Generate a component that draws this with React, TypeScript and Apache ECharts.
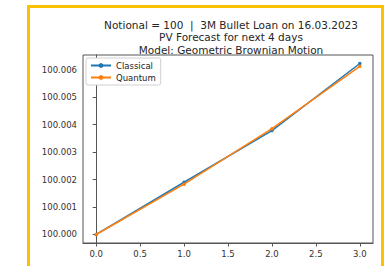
import React, { useEffect, useRef } from "react";
import * as echarts from "echarts";

const days = [0, 1, 2, 3];
const classical = [100.0, 100.0019, 100.00378, 100.00622];
const quantum = [100.0, 100.00183, 100.00385, 100.00612];
const xTicks = [0, 0.5, 1, 1.5, 2, 2.5, 3];
const yTicks = [100.0, 100.001, 100.002, 100.003, 100.004, 100.005, 100.006];
const titleLines = [
  "Notional = 100  |  3M Bullet Loan on 16.03.2023",
  "PV Forecast for next 4 days",
  "Model: Geometric Brownian Motion",
];

const FONT = "DejaVu Sans";

export default function App() {
  const ref = useRef<HTMLDivElement>(null);
  useEffect(() => {
    document.body.style.margin = "0";
    const chart = echarts.init(ref.current!, null, { renderer: "svg" });
    const ser = (name: string, data: number[], color: string) => ({
      name,
      type: "line",
      data: days.map((d, i) => [d, data[i]]),
      symbol: "circle",
      symbolSize: 3.5,
      lineStyle: { color, width: 1.5 },
      itemStyle: { color },
      z: name === "Quantum" ? 3 : 2,
    });
    chart.setOption({
      animation: false,
      backgroundColor: "#fff",
      textStyle: { fontFamily: FONT },
      title: {
        text: titleLines.join("\n"),
        left: 226,
        top: 14,
        textAlign: "center",
        textStyle: {
          fontFamily: FONT,
          fontSize: 10.5,
          fontWeight: "normal",
          color: "#262626",
          lineHeight: 12.3,
        },
      },
      graphic: [
        {
          type: "rect",
          shape: { x: 28.5, y: 6.5, width: 354, height: 280 },
          style: { fill: "none", stroke: "#FFC000", lineWidth: 3 },
          silent: true,
        },
      ],
      legend: {
        left: 86,
        top: 58,
        orient: "vertical",
        itemGap: 3,
        itemWidth: 20,
        itemHeight: 6,
        padding: [3, 5, 3, 4],
        borderColor: "#d0d0d0",
        borderWidth: 1,
        borderRadius: 2,
        backgroundColor: "#fff",
        textStyle: { fontFamily: FONT, fontSize: 8.5, color: "#222", padding: [0, 0, 0, 0] },
        data: ["Classical", "Quantum"],
      },
      grid: {
        left: 83,
        top: 55,
        right: 17,
        bottom: 23,
        show: true,
        borderColor: "#555",
        borderWidth: 1,
        backgroundColor: "transparent",
      },
      xAxis: {
        type: "value",
        min: -0.15,
        max: 3.15,
        splitLine: { show: false },
        axisLine: { show: true, lineStyle: { color: "#555", width: 1 } },
        axisTick: { show: true, length: 3.5, lineStyle: { color: "#555" }, customValues: xTicks },
        axisLabel: {
          customValues: xTicks,
          formatter: (v: number) => v.toFixed(1),
          fontFamily: FONT,
          fontSize: 8.5,
          color: "#333",
          margin: 6,
        },
      },
      yAxis: {
        type: "value",
        min: 99.99969,
        max: 100.00653,
        scale: true,
        splitLine: { show: false },
        axisLine: { show: true, lineStyle: { color: "#555", width: 1 } },
        axisTick: { show: true, length: 3.5, lineStyle: { color: "#555" }, customValues: yTicks },
        axisLabel: {
          customValues: yTicks,
          formatter: (v: number) => v.toFixed(3),
          fontFamily: FONT,
          fontSize: 8.5,
          color: "#333",
          margin: 6,
        },
      },
      series: [ser("Classical", classical, "#1f77b4"), ser("Quantum", quantum, "#ff7f0e")],
    });
    return () => chart.dispose();
  }, []);
  return <div ref={ref} style={{ width: 390, height: 266 }} />;
}
